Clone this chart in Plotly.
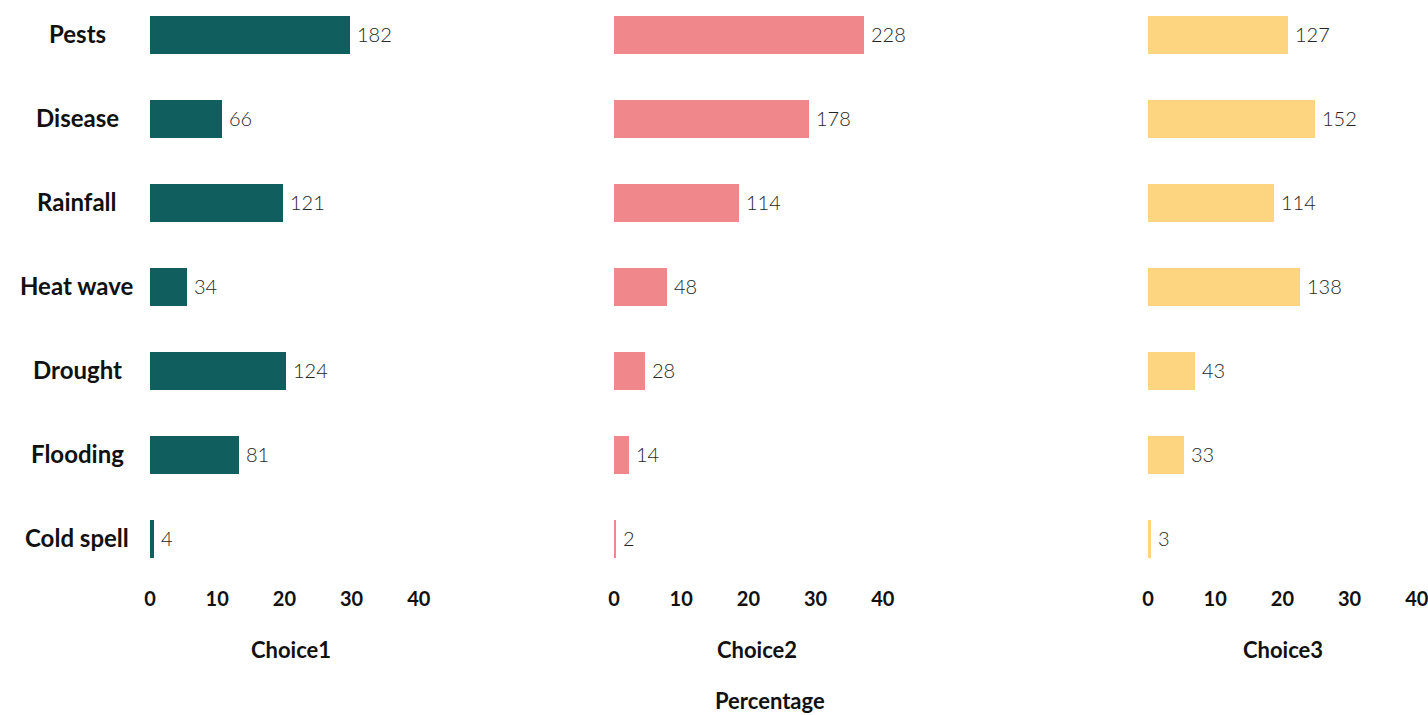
import plotly.graph_objects as go

# Hazard categories, top to bottom
categories = ["Pests", "Disease", "Rainfall", "Heat wave", "Drought", "Flooding", "Cold spell"]

# Response counts for each ranked choice
choice1_counts = [182, 66, 121, 34, 124, 81, 4]
choice2_counts = [228, 178, 114, 48, 28, 14, 2]
choice3_counts = [127, 152, 114, 138, 43, 33, 3]

panel_titles = ["Choice1", "Choice2", "Choice3"]
panel_colors = ["#115e5e", "#f0888b", "#fdd580"]
x_tick_values = [0, 10, 20, 30, 40]
x_tick_labels = ["0", "10", "20", "30", "40"]

W, H = 1428, 715
FONT = "Lato"

def px_x(p):
    return p / W

def px_y(p):
    return 1 - p / H

x_range = [0, 41.5]
px_per_unit = 6.72
panel_starts = [150, 614, 1148]
y_top_px, y_bottom_px = 0, 581
row_px = 84

fig = go.Figure()
annotations = []

series = [choice1_counts, choice2_counts, choice3_counts]
ypos = list(range(len(categories)))

for i, counts in enumerate(series):
    total = sum(counts)
    pct = [c / total * 100 for c in counts]
    suffix = "" if i == 0 else str(i + 1)
    fig.add_trace(go.Bar(
        x=pct, y=ypos, orientation="h",
        marker=dict(color=panel_colors[i], line=dict(width=0)),
        width=38 / row_px,
        xaxis="x" + suffix, yaxis="y" + suffix,
        hoverinfo="skip", showlegend=False,
    ))
    # count labels at the end of each bar
    for yv, xv, c in zip(ypos, pct, counts):
        annotations.append(dict(
            x=xv, y=yv, xref="x" + suffix, yref="y" + suffix,
            text=str(c), showarrow=False, xanchor="left", yanchor="middle",
            xshift=5, yshift=1,
            font=dict(family=FONT, size=20, color="#262626", weight=300),
        ))
    start = panel_starts[i]
    end = start + px_per_unit * (x_range[1] - x_range[0])
    fig.layout["xaxis" + suffix] = dict(
        domain=[px_x(start), min(px_x(end), 1.0)], range=x_range,
        anchor="y" + suffix, tickvals=x_tick_values, ticktext=x_tick_labels,
        showgrid=False, zeroline=False, showline=False,
        ticks="", ticklabelstandoff=4,
        automargin=False, ticklabeloverflow="allow",
        tickfont=dict(family=FONT, size=20, color="#111111", weight=700),
        fixedrange=True,
    )
    fig.layout["yaxis" + suffix] = dict(
        domain=[px_y(y_bottom_px), px_y(y_top_px)],
        range=[len(categories) - 0.5, -35 / row_px],
        anchor="x" + suffix, showticklabels=False, automargin=False,
        showgrid=False, zeroline=False, showline=False, fixedrange=True,
    )

# category labels on the left
for yv, cat in zip(ypos, categories):
    annotations.append(dict(
        x=px_x(77), y=yv, xref="paper", yref="y",
        text=cat, showarrow=False, xanchor="center", yanchor="middle",
        yshift=2,
        font=dict(family=FONT, size=24, color="#111111", weight=700),
    ))

# panel titles
for cx, title in zip([291, 757, 1283], panel_titles):
    annotations.append(dict(
        x=px_x(cx), y=px_y(649), xref="paper", yref="paper",
        text=title, showarrow=False, xanchor="center", yanchor="middle",
        font=dict(family=FONT, size=22, color="#111111", weight=700),
    ))

annotations.append(dict(
    x=px_x(770), y=px_y(700), xref="paper", yref="paper",
    text="Percentage", showarrow=False, xanchor="center", yanchor="middle",
    font=dict(family=FONT, size=22, color="#111111", weight=700),
))

fig.update_layout(
    width=W, height=H,
    margin=dict(l=0, r=0, t=0, b=0, pad=0, autoexpand=False),
    paper_bgcolor="white", plot_bgcolor="white",
    annotations=annotations,
    bargap=0,
)

fig.write_html("out.html", config={"displayModeBar": False})
